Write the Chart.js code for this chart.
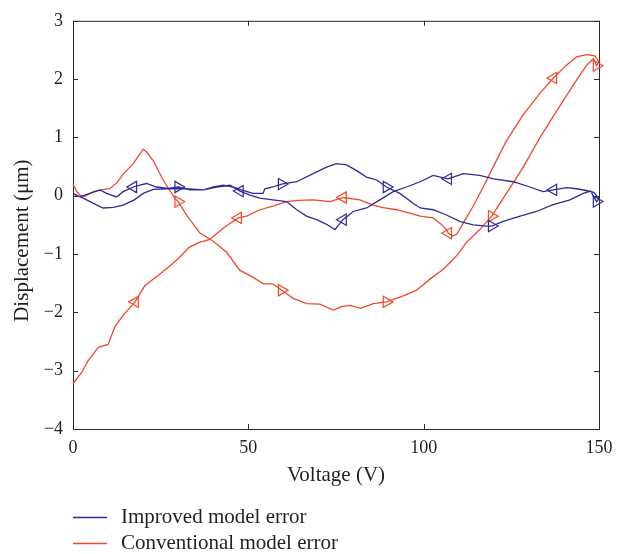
<!DOCTYPE html>
<html><head><meta charset="utf-8">
<script src="https://cdn.jsdelivr.net/npm/chart.js@4.4.0/dist/chart.umd.min.js"></script>
<style>html,body{margin:0;padding:0;background:#fff}canvas{display:block}</style>
</head><body>
<canvas id="c" width="635" height="554"></canvas>
<script>
const seriesNames = ['Improved model error', 'Conventional model error'];
const xTicks = [0, 50, 100, 150];
const yTicks = [-4, -3, -2, -1, 0, 1, 2, 3];

// Improved model error: path 0 V -> 150 V -> 0 V
const improvedVoltage = [0,2.9,5.8,8.6,11.5,14.3,17.5,20,22.9,26.7,30,33.4,37.2,40,42.9,45.7,48,51.3,54.2,54.7,57,59.5,63.8,68.5,72.3,75.1,78,80.9,83.7,86.6,89.4,93.2,97,99,102.7,106.5,110.3,114.1,118,119.4,122.7,127.5,132.2,136.5,141.7,145.5,147.6,149.3,150,
  148.5,146.4,143.6,140.7,137,134,130.3,125.5,119.9,116,111.3,107,102.7,99,95.1,91.3,87.5,83.7,79.9,77,74.7,72.3,69.5,66.6,63.8,60.9,57,53.3,50.5,47.6,44.8,41,37.2,32.4,27.7,23.8,21,19.1,17.2,14.3,12.4,9.6,7.7,4.8,2,0];
const improvedError = [0.03,-0.04,-0.13,-0.21,-0.2,-0.16,-0.07,0.04,0.11,0.12,0.15,0.1,0.1,0.15,0.18,0.15,0.1,0.04,0.04,0.12,0.15,0.2,0.24,0.38,0.49,0.55,0.53,0.43,0.32,0.27,0.15,0.04,-0.13,-0.21,-0.24,-0.33,-0.44,-0.5,-0.52,-0.52,-0.44,-0.35,-0.27,-0.16,-0.07,0.04,0.08,-0.1,-0.05,
  0.06,0.09,0.12,0.14,0.1,0.07,0.15,0.24,0.29,0.35,0.38,0.29,0.35,0.24,0.15,0.07,-0.07,-0.21,-0.27,-0.41,-0.58,-0.49,-0.41,-0.35,-0.24,-0.1,-0.07,-0.04,0.01,0.08,0.18,0.15,0.1,0.12,0.12,0.15,0.21,0.18,0.15,0.07,-0.02,0.04,0.1,0.04,-0.02,0.04];
const improvedMarkers = [30,59.5,89.4,119.4,149.3,137,107,77,47.6,17.2];

// Conventional model error: path 0 V -> 150 V -> 0 V
const conventionalVoltage = [0,1,2,3.4,5.8,8,10.5,12.5,14.4,17.2,20,21,22.9,25.7,29,30,32.6,36.2,40,43.8,47.6,51.4,54.3,57,59.5,62.8,66.6,70.4,74.2,76.5,79,82,85.6,89.4,94,98,101.8,105.6,109.4,112.2,116,119.4,123.6,128.4,133.2,137.9,142.7,146.5,148.4,149.3,150,
  148.8,146.5,143.6,140.7,137,133.2,128.4,123.6,119.8,117,114.1,111.3,109.4,108.2,107,106.5,104.6,102.7,99,96,92.3,88,85.6,81.8,77,73.3,68.5,64,61,57,53.3,49.5,47.1,43,39,36,33,30.5,27.7,24,20.5,17.7,14.3,12,10,7.2,4.3,2.5,0];
const conventionalError = [0.2,0.08,0.01,-0.01,0.07,0.1,0.12,0.22,0.38,0.55,0.8,0.75,0.6,0.27,-0.04,-0.1,-0.35,-0.64,-0.78,-0.97,-1.28,-1.4,-1.51,-1.51,-1.62,-1.76,-1.85,-1.86,-1.96,-1.9,-1.88,-1.93,-1.85,-1.82,-1.72,-1.62,-1.43,-1.26,-1.03,-0.8,-0.58,-0.35,0.04,0.49,1.0,1.45,1.9,2.24,2.35,2.23,2.3,
  2.4,2.42,2.38,2.24,2.02,1.76,1.39,0.94,0.49,0.15,-0.18,-0.47,-0.66,-0.69,-0.64,-0.58,-0.47,-0.38,-0.35,-0.3,-0.24,-0.2,-0.16,-0.07,-0.03,-0.1,-0.07,-0.08,-0.1,-0.18,-0.24,-0.35,-0.38,-0.55,-0.75,-0.8,-0.89,-1.05,-1.2,-1.38,-1.54,-1.82,-2.05,-2.24,-2.55,-2.6,-2.83,-3.03,-3.22];
const conventionalMarkers = [30,59.5,89.4,119.4,149.3,137,107,77,47.1,17.7];

const BLUE = '#2e2b99';
const RED = '#f2482a';
const AXIS = '#2a2a2a';
const TEXT = '#231f20';
const FONT = 'Liberation Serif';

function toPoints(xs, ys) { return xs.map((x, i) => ({x, y: ys[i]})); }
function makeSet(label, xs, ys, markers, color) {
  return {
    label, data: toPoints(xs, ys), borderColor: color, borderWidth: 1.3,
    pointStyle: 'triangle', pointBackgroundColor: 'rgba(0,0,0,0)', pointBorderColor: color, pointBorderWidth: 1.2,
    pointRadius: ctx => markers.includes(ctx.raw.x) ? 6.5 : 0,
    pointRotation: ctx => { const d = ctx.dataset.data, i = ctx.dataIndex; return (i > 0 && d[i].x < d[i-1].x) ? -90 : 90; },
    tension: 0, clip: false, fill: false
  };
}

const framePlugin = {
  id: 'frame',
  beforeDatasetsDraw(chart) {
    const {ctx, chartArea: a, scales: {x, y}} = chart;
    ctx.save();
    ctx.strokeStyle = AXIS; ctx.lineWidth = 1;
    ctx.strokeRect(a.left + 0.5, a.top + 0.5, a.right - a.left, a.bottom - a.top);
    const L = 5;
    ctx.beginPath();
    xTicks.forEach(v => { const px = Math.round(x.getPixelForValue(v)) + 0.5;
      ctx.moveTo(px, a.bottom); ctx.lineTo(px, a.bottom - L); ctx.moveTo(px, a.top); ctx.lineTo(px, a.top + L); });
    yTicks.forEach(v => { const py = Math.round(y.getPixelForValue(v)) + 0.5;
      ctx.moveTo(a.left, py); ctx.lineTo(a.left + L, py); ctx.moveTo(a.right, py); ctx.lineTo(a.right - L, py); });
    ctx.stroke();
    ctx.restore();
  }
};

const legendPlugin = {
  id: 'legendBelow',
  afterDraw(chart) {
    const {ctx} = chart;
    ctx.save();
    ctx.font = '21px "' + FONT + '"';
    ctx.textBaseline = 'middle'; ctx.textAlign = 'left';
    chart.data.datasets.forEach((ds, i) => {
      const yy = 517 + i * 26;
      ctx.strokeStyle = ds.borderColor; ctx.lineWidth = 1.5;
      ctx.beginPath(); ctx.moveTo(73, yy + 0.5); ctx.lineTo(107, yy + 0.5); ctx.stroke();
      ctx.fillStyle = TEXT; ctx.fillText(ds.label, 121, yy);
    });
    ctx.restore();
  }
};

new Chart(document.getElementById('c'), {
  type: 'line',
  data: { datasets: [
    makeSet(seriesNames[0], improvedVoltage, improvedError, improvedMarkers, BLUE),
    makeSet(seriesNames[1], conventionalVoltage, conventionalError, conventionalMarkers, RED)
  ]},
  options: {
    responsive: false, animation: false, devicePixelRatio: 1,
    layout: { padding: { left: 0, right: 36, top: 15, bottom: 66 } },
    plugins: { legend: { display: false }, tooltip: { enabled: false } },
    scales: {
      x: {
        type: 'linear', min: 0, max: 150,
        afterBuildTicks: s => { s.ticks = xTicks.map(v => ({value: v})); },
        afterFit: s => { s.height = 59; },
        grid: { display: false, drawTicks: false },
        border: { display: false },
        ticks: { padding: 8, color: TEXT, font: { family: FONT, size: 18 }, maxRotation: 0 },
        title: { display: true, text: 'Voltage (V)', color: TEXT, font: { family: FONT, size: 21 }, padding: { top: 0, bottom: 0 } }
      },
      y: {
        type: 'linear', min: -4, max: 3,
        afterBuildTicks: s => { s.ticks = yTicks.map(v => ({value: v})); },
        afterFit: s => { s.width = 73; },
        grid: { display: false, drawTicks: false },
        border: { display: false },
        ticks: { padding: 10, color: TEXT, font: { family: FONT, size: 18 },
          callback: v => v < 0 ? '\u2212' + Math.abs(v) : String(v) },
        title: { display: true, text: 'Displacement (\u03bcm)      ', color: TEXT, font: { family: FONT, size: 21 }, padding: { top: 10, bottom: 0 } }
      }
    }
  },
  plugins: [framePlugin, legendPlugin]
});
</script>
</body></html>
